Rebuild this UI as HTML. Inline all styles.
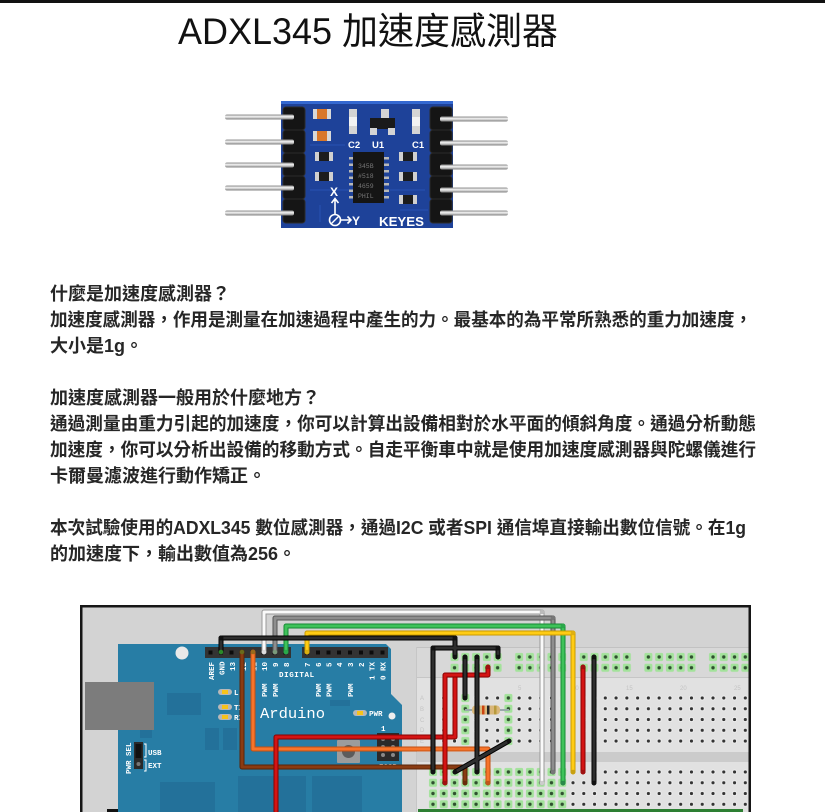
<!DOCTYPE html>
<html lang="zh-TW"><head><meta charset="utf-8">
<style>
html,body{margin:0;padding:0;background:#fff;width:830px;height:812px;overflow:hidden}
svg{display:block}
.t{font-family:"Liberation Sans","Noto Sans CJK TC",sans-serif;font-weight:bold;font-size:18px;fill:#262626}
.ttl{font-family:"Liberation Sans","Noto Sans CJK TC",sans-serif;font-weight:normal;font-size:37px;fill:#111}
.m{font-family:"Liberation Mono","DejaVu Sans Mono",monospace;fill:#fff;font-weight:bold;font-size:7.5px}
.pl{font-family:"Liberation Sans","DejaVu Sans",sans-serif;fill:#fff;font-weight:bold}
</style></head><body>
<svg width="830" height="812" viewBox="0 0 830 812" xmlns="http://www.w3.org/2000/svg" lang="zh-TW">
<defs>
<linearGradient id="pin" x1="0" y1="0" x2="0" y2="1">
<stop offset="0" stop-color="#8a8a8a"/><stop offset="0.45" stop-color="#f4f4f4"/><stop offset="1" stop-color="#7a7a7a"/>
</linearGradient>
<pattern id="hA" patternUnits="userSpaceOnUse" x="427.6" y="692.6" width="10.77" height="10.77">
<circle cx="5.385" cy="5.385" r="2.5" fill="#f3f3f3"/><circle cx="5.385" cy="5.385" r="1.6" fill="#333"/>
</pattern>
<pattern id="hB" patternUnits="userSpaceOnUse" x="427.6" y="766.6" width="10.77" height="10.77">
<circle cx="5.385" cy="5.385" r="2.5" fill="#f3f3f3"/><circle cx="5.385" cy="5.385" r="1.6" fill="#333"/>
</pattern>
<pattern id="gA" patternUnits="userSpaceOnUse" x="427.6" y="692.6" width="10.77" height="10.77">
<rect x="1.4" y="1.4" width="8" height="8" rx="1.5" fill="#a3e29b"/><circle cx="5.385" cy="5.385" r="1.7" fill="#2f4f2f"/>
</pattern>
<pattern id="gB" patternUnits="userSpaceOnUse" x="427.6" y="766.6" width="10.77" height="10.77">
<rect x="1.4" y="1.4" width="8" height="8" rx="1.5" fill="#a3e29b"/><circle cx="5.385" cy="5.385" r="1.7" fill="#2f4f2f"/>
</pattern>
<pattern id="gR" patternUnits="userSpaceOnUse" x="427.6" y="651.6" width="10.77" height="10.77">
<rect x="1.4" y="1.4" width="8" height="8" rx="1.5" fill="#a3e29b"/><circle cx="5.385" cy="5.385" r="1.7" fill="#2f4f2f"/>
</pattern>
</defs>

<!-- top rule -->
<rect x="0" y="0" width="825" height="3" fill="#111"/>

<!-- title -->
<text class="ttl" x="178" y="44" textLength="380" lengthAdjust="spacingAndGlyphs">ADXL345 加速度感測器</text>

<!-- ===== board photo ===== -->
<rect x="281" y="101" width="172" height="127" fill="#1e4299"/>
<rect x="281" y="101" width="172" height="3" fill="#3468d0"/>
<g stroke="#2b55b8" stroke-width="1" fill="none" opacity="0.8">
<path d="M310 145 H345 M310 190 H350 M390 190 H425 M320 205 V222 M400 210 H428"/>
</g>
<!-- headers -->
<g fill="#151515" stroke="#2c2c2c" stroke-width="1">
<rect x="283" y="107" width="22" height="23" rx="3"/><rect x="283" y="130" width="22" height="23" rx="3"/>
<rect x="283" y="153" width="22" height="23" rx="3"/><rect x="283" y="176" width="22" height="23" rx="3"/>
<rect x="283" y="199" width="22" height="24" rx="3"/>
<rect x="430" y="107" width="22" height="23" rx="3"/><rect x="430" y="130" width="22" height="23" rx="3"/>
<rect x="430" y="153" width="22" height="23" rx="3"/><rect x="430" y="176" width="22" height="23" rx="3"/>
<rect x="430" y="199" width="22" height="24" rx="3"/>
</g>
<!-- pins -->
<g fill="url(#pin)">
<rect x="225" y="114.5" width="69" height="5" rx="2"/><rect x="225" y="139.5" width="69" height="5" rx="2"/>
<rect x="225" y="162.5" width="69" height="5" rx="2"/><rect x="225" y="185.5" width="69" height="5" rx="2"/>
<rect x="225" y="210.5" width="69" height="5" rx="2"/>
<rect x="440" y="116.5" width="68" height="5" rx="2"/><rect x="440" y="140.5" width="68" height="5" rx="2"/>
<rect x="440" y="164.5" width="68" height="5" rx="2"/><rect x="440" y="187.5" width="68" height="5" rx="2"/>
<rect x="440" y="210.5" width="68" height="5" rx="2"/>
</g>
<!-- smd parts -->
<g>
<rect x="313" y="109" width="18" height="10" fill="#d8d8d8"/><rect x="317" y="109" width="10" height="10" fill="#d9772a"/>
<rect x="313" y="131" width="18" height="10" fill="#d8d8d8"/><rect x="317" y="131" width="10" height="10" fill="#d9772a"/>
<rect x="315" y="152" width="18" height="9" fill="#d0d0d0"/><rect x="319" y="152" width="10" height="9" fill="#1c1c1c"/>
<rect x="315" y="172" width="18" height="9" fill="#d0d0d0"/><rect x="319" y="172" width="10" height="9" fill="#1c1c1c"/>
<rect x="399" y="152" width="18" height="9" fill="#d0d0d0"/><rect x="403" y="152" width="10" height="9" fill="#1c1c1c"/>
<rect x="399" y="172" width="18" height="9" fill="#d0d0d0"/><rect x="403" y="172" width="10" height="9" fill="#1c1c1c"/>
<rect x="399" y="195" width="18" height="9" fill="#d0d0d0"/><rect x="403" y="195" width="10" height="9" fill="#1c1c1c"/>
<!-- C2 -->
<rect x="349" y="109" width="8" height="25" fill="#d4d4d4"/><rect x="349" y="117" width="8" height="9" fill="#f2f2f2"/>
<!-- U1 -->
<rect x="381" y="109" width="8" height="9" fill="#d4d4d4"/>
<rect x="370" y="118" width="25" height="11" fill="#1a1a1a"/>
<rect x="370" y="128" width="7" height="7" fill="#d4d4d4"/><rect x="388" y="128" width="7" height="7" fill="#d4d4d4"/>
<!-- C1 -->
<rect x="412" y="109" width="8" height="25" fill="#d4d4d4"/><rect x="412" y="117" width="8" height="9" fill="#f2f2f2"/>
</g>
<g class="pl" font-size="9.5">
<text x="348" y="148">C2</text><text x="372" y="148">U1</text><text x="412" y="148">C1</text>
</g>
<!-- chip -->
<g fill="#b8b8b8">
<rect x="349" y="157" width="5" height="2.5"/><rect x="349" y="163.5" width="5" height="2.5"/><rect x="349" y="170" width="5" height="2.5"/>
<rect x="349" y="176.5" width="5" height="2.5"/><rect x="349" y="183" width="5" height="2.5"/><rect x="349" y="189.5" width="5" height="2.5"/>
<rect x="349" y="196" width="5" height="2.5"/>
<rect x="384" y="157" width="5" height="2.5"/><rect x="384" y="163.5" width="5" height="2.5"/><rect x="384" y="170" width="5" height="2.5"/>
<rect x="384" y="176.5" width="5" height="2.5"/><rect x="384" y="183" width="5" height="2.5"/><rect x="384" y="189.5" width="5" height="2.5"/>
<rect x="384" y="196" width="5" height="2.5"/>
</g>
<rect x="353" y="152" width="31" height="51" fill="#151515"/>
<g font-family="Liberation Mono,monospace" font-size="6.5" fill="#777">
<text x="358" y="168">345B</text><text x="358" y="178">#518</text><text x="358" y="188">4659</text><text x="358" y="198">PHIL</text>
</g>
<!-- axis marks -->
<text class="pl" x="330" y="196" font-size="12">X</text>
<path d="M335 214 V199 M331.5 203 L335 198.5 L338.5 203" stroke="#fff" stroke-width="1.6" fill="none"/>
<circle cx="335" cy="220" r="5.5" stroke="#fff" stroke-width="1.6" fill="none"/>
<path d="M331 224 L339 216" stroke="#fff" stroke-width="1.4"/>
<path d="M341 220 H351 M347.5 216.5 L351 220 L347.5 223.5" stroke="#fff" stroke-width="1.6" fill="none"/>
<text class="pl" x="352" y="225" font-size="12" font-weight="normal">Y</text>
<text class="pl" x="379" y="226" font-size="13" font-weight="normal" textLength="45" lengthAdjust="spacingAndGlyphs">KEYES</text>

<!-- ===== body text ===== -->
<text class="t" x="50" y="300">什麼是加速度感測器？</text>
<text class="t" x="50" y="326" textLength="702" lengthAdjust="spacingAndGlyphs">加速度感測器，作用是測量在加速過程中產生的力。最基本的為平常所熟悉的重力加速度，</text>
<text class="t" x="50" y="352">大小是1g。</text>
<text class="t" x="50" y="404">加速度感測器一般用於什麼地方？</text>
<text class="t" x="50" y="430" textLength="706" lengthAdjust="spacingAndGlyphs">通過測量由重力引起的加速度，你可以計算出設備相對於水平面的傾斜角度。通過分析動態</text>
<text class="t" x="50" y="456" textLength="706" lengthAdjust="spacingAndGlyphs">加速度，你可以分析出設備的移動方式。自走平衡車中就是使用加速度感測器與陀螺儀進行</text>
<text class="t" x="50" y="482">卡爾曼濾波進行動作矯正。</text>
<text class="t" x="50" y="534" textLength="696" lengthAdjust="spacingAndGlyphs">本次試驗使用的ADXL345 數位感測器，通過I2C 或者SPI 通信埠直接輸出數位信號。在1g</text>
<text class="t" x="50" y="560">的加速度下，輸出數值為256。</text>

<!-- ===== fritzing diagram ===== -->
<rect x="80.5" y="605.5" width="670" height="230" fill="#d3d3d3"/>

<!-- breadboard -->
<rect x="416" y="647" width="334" height="170" fill="#e1e1e1"/>
<rect x="416" y="647" width="334" height="30" fill="#d8d8d8"/>
<line x1="416" y1="647.5" x2="750" y2="647.5" stroke="#c2c2c2"/>
<line x1="416" y1="677.5" x2="750" y2="677.5" stroke="#c6c6c6"/>
<rect x="416" y="752" width="334" height="10" fill="#cbcbcb"/>
<line x1="416.5" y1="647" x2="416.5" y2="812" stroke="#c6c6c6"/>
<g font-family="Liberation Sans,sans-serif" font-size="6" fill="#c4c4c4">
<text x="518" y="690">5</text><text x="572" y="690">10</text><text x="626" y="690">15</text><text x="680" y="690">20</text><text x="734" y="690">25</text>
<text x="420" y="700">A</text><text x="420" y="711">B</text><text x="420" y="722">C</text><text x="420" y="732">D</text><text x="420" y="743">E</text>
</g>
<!-- holes -->
<rect x="427.6" y="692.6" width="322" height="53.85" fill="url(#hA)"/>
<rect x="427.6" y="766.6" width="322" height="43.1" fill="url(#hB)"/>
<rect x="427.6" y="766.6" width="140" height="43.1" fill="url(#gB)"/>
<rect x="459.9" y="692.6" width="10.77" height="53.85" fill="url(#gA)"/>
<rect x="503.0" y="692.6" width="10.77" height="53.85" fill="url(#gA)"/>
<rect x="449.14" y="651.6" width="53.85" height="21.54" fill="url(#gR)"/>
<rect x="513.76" y="651.6" width="53.85" height="21.54" fill="url(#gR)"/>
<rect x="578.38" y="651.6" width="53.85" height="21.54" fill="url(#gR)"/>
<rect x="643.0" y="651.6" width="53.85" height="21.54" fill="url(#gR)"/>
<rect x="707.62" y="651.6" width="43" height="21.54" fill="url(#gR)"/>
<rect x="418" y="809" width="325" height="4" fill="#2d7f33"/>

<!-- arduino -->
<path d="M118 644 H386 L391 649 V694 L402 705 V812 H118 Z" fill="#277da5"/>
<g fill="#23719a">
<rect x="167" y="693" width="34" height="22"/>
<rect x="205" y="728" width="14" height="22"/>
<rect x="223" y="728" width="14" height="22"/>
<rect x="160" y="782" width="55" height="30"/>
<rect x="238" y="776" width="68" height="36"/>
<rect x="312" y="776" width="50" height="36"/>
<rect x="140" y="728" width="12" height="10"/>
<rect x="330" y="700" width="20" height="6"/>
</g>
<circle cx="182" cy="653" r="6.5" fill="#e9e9e9"/>
<rect x="85" y="682" width="69" height="48" fill="#7c7c7c"/>
<!-- headers -->
<rect x="205" y="647" width="86" height="11" fill="#333"/>
<rect x="302" y="647" width="86" height="11" fill="#333"/>
<g fill="#0c0c0c">
<rect x="208.5" y="650.5" width="4" height="4"/><rect x="219" y="650.5" width="4" height="4"/><rect x="229.5" y="650.5" width="4" height="4"/>
<rect x="240" y="650.5" width="4" height="4"/><rect x="250.5" y="650.5" width="4" height="4"/><rect x="261.5" y="650.5" width="4" height="4"/>
<rect x="272.5" y="650.5" width="4" height="4"/><rect x="283.5" y="650.5" width="4" height="4"/>
<rect x="305" y="650.5" width="4" height="4"/><rect x="316" y="650.5" width="4" height="4"/><rect x="326.5" y="650.5" width="4" height="4"/>
<rect x="337" y="650.5" width="4" height="4"/><rect x="348" y="650.5" width="4" height="4"/><rect x="359" y="650.5" width="4" height="4"/>
<rect x="369.5" y="650.5" width="4" height="4"/><rect x="380.5" y="650.5" width="4" height="4"/>
</g>
<!-- labels -->
<g class="m">
<text transform="translate(214,680) rotate(-90)">AREF</text>
<text transform="translate(224.5,675) rotate(-90)">GND</text>
<text transform="translate(235,671) rotate(-90)">13</text>
<text transform="translate(246,671) rotate(-90)">12</text>
<text transform="translate(256.5,671) rotate(-90)">11</text>
<text transform="translate(267,671) rotate(-90)">10</text>
<text transform="translate(278,667) rotate(-90)">9</text>
<text transform="translate(289,667) rotate(-90)">8</text>
<text transform="translate(310,667) rotate(-90)">7</text>
<text transform="translate(321,667) rotate(-90)">6</text>
<text transform="translate(331.5,667) rotate(-90)">5</text>
<text transform="translate(342,667) rotate(-90)">4</text>
<text transform="translate(353,667) rotate(-90)">3</text>
<text transform="translate(364,667) rotate(-90)">2</text>
<text transform="translate(374.5,671) rotate(-90)">TX</text>
<text transform="translate(385.5,671) rotate(-90)">RX</text>
<text transform="translate(374.5,680) rotate(-90)">1</text>
<text transform="translate(385.5,680) rotate(-90)">0</text>
<text x="279" y="677" letter-spacing="0.6">DIGITAL</text>
<text transform="translate(267,697) rotate(-90)">PWM</text>
<text transform="translate(278,697) rotate(-90)">PWM</text>
<text transform="translate(321,697) rotate(-90)">PWM</text>
<text transform="translate(331.5,697) rotate(-90)">PWM</text>
<text transform="translate(353,697) rotate(-90)">PWM</text>
<text x="234" y="695">L</text>
<text x="234" y="710">TX</text>
<text x="234" y="720">RX</text>
<text x="369" y="716">PWR</text>
<text transform="translate(131,774) rotate(-90)">PWR SEL</text>
<text x="148" y="755">USB</text>
<text x="148" y="768">EXT</text>
<text x="381" y="731">1</text>
<text x="379" y="769">ICSP</text>
</g>
<text x="260" y="718" font-family="Liberation Mono,DejaVu Sans Mono,monospace" font-size="15" fill="#fff" textLength="65" lengthAdjust="spacingAndGlyphs">Arduino</text>
<!-- LEDs -->
<g>
<rect x="218" y="689" width="14" height="6" rx="3" fill="#b8b8b8"/><rect x="222" y="690" width="6" height="4" fill="#f7c31a"/>
<rect x="218" y="704" width="14" height="6" rx="3" fill="#b8b8b8"/><rect x="222" y="705" width="6" height="4" fill="#f7c31a"/>
<rect x="218" y="714" width="14" height="6" rx="3" fill="#b8b8b8"/><rect x="222" y="715" width="6" height="4" fill="#f7c31a"/>
<rect x="353" y="710" width="14" height="6" rx="3" fill="#b8b8b8"/><rect x="357" y="711" width="6" height="4" fill="#f7c31a"/>
</g>
<circle cx="392" cy="716" r="3.5" fill="#eee"/>
<!-- PWR SEL jumper -->
<rect x="134" y="742" width="9" height="27" fill="#2a2a2a"/>
<rect x="135.5" y="744" width="6" height="14" fill="#111"/>
<circle cx="138.5" cy="764" r="2" fill="#777"/>
<path d="M144 744 H146 V757 H144 M144 760 H146 V771 H144" stroke="#fff" stroke-width="1" fill="none"/>
<!-- push button -->
<rect x="337" y="740" width="23" height="23" rx="1" fill="#9c9c9c"/>
<circle cx="348.5" cy="751.5" r="6.5" fill="#5c5c5c"/>
<!-- ICSP -->
<rect x="377" y="733" width="22" height="28" fill="#2a2a2a"/>
<g fill="#888"><circle cx="383" cy="739" r="2"/><circle cx="393" cy="739" r="2"/><circle cx="383" cy="747" r="2"/><circle cx="393" cy="747" r="2"/><circle cx="383" cy="755" r="2"/><circle cx="393" cy="755" r="2"/></g>
<rect x="107" y="809" width="11" height="4" fill="#111"/>

<!-- resistor -->
<line x1="465" y1="710" x2="509" y2="710" stroke="#9aa" stroke-width="2"/>
<rect x="472" y="705.5" width="28" height="9" rx="3.5" fill="#d9b77a"/>
<rect x="477" y="705.5" width="2.5" height="9" fill="#222"/><rect x="482" y="705.5" width="2.5" height="9" fill="#c41"/>
<rect x="487" y="705.5" width="2.5" height="9" fill="#222"/><rect x="494" y="705.5" width="2.5" height="9" fill="#b89b3c"/>

<!-- wires -->
<g fill="none" stroke-linejoin="round" stroke-linecap="round">
<polyline points="242,652 242,767 465,767 465,783" stroke="#5a2408" stroke-width="5"/>
<polyline points="242,652 242,767 465,767 465,783" stroke="#8a3b12" stroke-width="3"/>
<polyline points="253,652 253,749 488,749 488,783" stroke="#c24f12" stroke-width="5"/>
<polyline points="253,652 253,749 488,749 488,783" stroke="#f7742a" stroke-width="3"/>
<polyline points="276,815 276,737 455,737 455,675" stroke="#8a0000" stroke-width="5"/>
<polyline points="276,815 276,737 455,737 455,675" stroke="#d41414" stroke-width="3"/>
<polyline points="445,783 445,675 488,675 488,667" stroke="#8a0000" stroke-width="5"/>
<polyline points="445,783 445,675 488,675 488,667" stroke="#d41414" stroke-width="3"/>
<polyline points="583,667 583,772" stroke="#8a0000" stroke-width="5"/>
<polyline points="583,667 583,772" stroke="#d41414" stroke-width="3"/>
<polyline points="264,652 264,612 542,612 542,783" stroke="#9a9a9a" stroke-width="5"/>
<polyline points="264,652 264,612 542,612 542,783" stroke="#fafafa" stroke-width="3"/>
<polyline points="275,652 275,618 553,618 553,772" stroke="#555" stroke-width="5"/>
<polyline points="275,652 275,618 553,618 553,772" stroke="#8e8e8e" stroke-width="3"/>
<polyline points="286,652 286,626 563,626 563,783" stroke="#168a34" stroke-width="5"/>
<polyline points="286,652 286,626 563,626 563,783" stroke="#3fc25a" stroke-width="3"/>
<polyline points="307,652 307,633 573,633 573,772" stroke="#c99a00" stroke-width="5"/>
<polyline points="307,652 307,633 573,633 573,772" stroke="#ffcc14" stroke-width="3"/>
<g stroke="#000" stroke-width="5">
<polyline points="221,652 221,638 455,638 455,657"/>
<polyline points="433,772 433,648 498,648 498,657"/>
<polyline points="465,657 465,698"/>
<polyline points="477,657 477,772"/>
<polyline points="455,772 509,741"/>
<polyline points="594,657 594,783"/>
</g>
<g stroke="#2e2e2e" stroke-width="3">
<polyline points="221,652 221,638 455,638 455,657"/>
<polyline points="433,772 433,648 498,648 498,657"/>
<polyline points="465,657 465,698"/>
<polyline points="477,657 477,772"/>
<polyline points="455,772 509,741"/>
<polyline points="594,657 594,783"/>
</g>
</g>
<!-- wire ends -->
<g fill="#111">
<circle cx="221" cy="638" r="2.5"/><circle cx="455" cy="638" r="2.5"/><circle cx="433" cy="648" r="2.5"/><circle cx="498" cy="648" r="2.5"/>
<circle cx="455" cy="657" r="2.3"/><circle cx="498" cy="657" r="2.3"/><circle cx="465" cy="657" r="2.3"/><circle cx="477" cy="657" r="2.3"/>
<circle cx="594" cy="657" r="2.3"/><circle cx="433" cy="772" r="2.3"/><circle cx="477" cy="772" r="2.3"/><circle cx="455" cy="772" r="2.3"/>
<circle cx="509" cy="741" r="2.3"/><circle cx="594" cy="783" r="2.3"/><circle cx="465" cy="698" r="2.3"/>
</g>
<g>
<circle cx="221" cy="652" r="2.3" fill="#2b8a2b"/><circle cx="242" cy="652" r="2.3" fill="#6a6a1a"/><circle cx="253" cy="652" r="2.3" fill="#9a6a1a"/>
<circle cx="264" cy="652" r="2.3" fill="#ddd"/><circle cx="275" cy="652" r="2.3" fill="#7a9a7a"/><circle cx="286" cy="652" r="2.3" fill="#2aa84a"/>
<circle cx="307" cy="652" r="2.3" fill="#d8b010"/>
<circle cx="542" cy="612" r="2.3" fill="#bbb"/><circle cx="553" cy="618" r="2.3" fill="#777"/><circle cx="563" cy="626" r="2.3" fill="#2aa84a"/><circle cx="573" cy="633" r="2.3" fill="#e0b010"/>
<circle cx="542" cy="783" r="2.3" fill="#ccc"/><circle cx="553" cy="772" r="2.3" fill="#777"/><circle cx="563" cy="783" r="2.3" fill="#2a8a4a"/><circle cx="573" cy="772" r="2.3" fill="#c8a010"/>
<circle cx="583" cy="667" r="2.3" fill="#a01010"/><circle cx="583" cy="772" r="2.3" fill="#a01010"/>
<circle cx="465" cy="783" r="2.3" fill="#6a2a0a"/><circle cx="488" cy="783" r="2.3" fill="#c0541a"/>
<circle cx="445" cy="783" r="2.3" fill="#a01010"/><circle cx="488" cy="667" r="2.3" fill="#a01010"/>
</g>

<!-- frame border -->
<path d="M81.25 830 V606.25 H749.75 V830" fill="none" stroke="#161616" stroke-width="2.5"/>
</svg>
</body></html>
